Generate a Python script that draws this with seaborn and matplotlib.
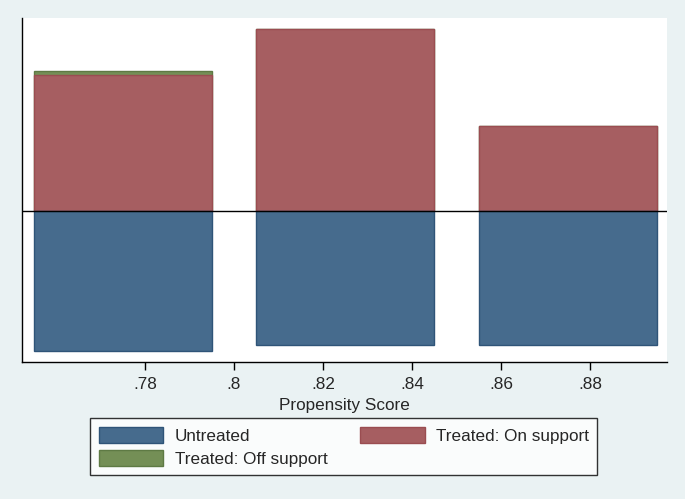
import numpy as np
import pandas as pd
import matplotlib
matplotlib.use('Agg')
import matplotlib.pyplot as plt
from matplotlib.patches import Patch
import seaborn as sns

# bin centers of the propensity score and bar heights (arbitrary density units)
bin_centers = [0.775, 0.825, 0.875]
untreated = [140, 134, 134]
treated_on = [136, 182, 85]
treated_off = [4, 0, 0]

blue, red, green = '#466B8D', '#A65E61', '#748F56'
bg = '#EAF2F3'

sns.set_theme(style='white')
plt.rcParams['font.family'] = ['Liberation Sans', 'DejaVu Sans']

df = pd.DataFrame({
    'ps': bin_centers,
    'untreated': [-v for v in untreated],
    'on': treated_on,
    'total': [a + b for a, b in zip(treated_on, treated_off)],
})

fig = plt.figure(figsize=(6.85, 4.99), dpi=100, facecolor=bg)
ax = fig.add_axes([22 / 685, 1 - 362 / 499, 645 / 685, 344 / 499])
ax.set_facecolor('white')

sns.barplot(data=df, x='ps', y='total', native_scale=True, width=0.8,
            color=green, saturation=1, edgecolor='#5E7A44', linewidth=1, ax=ax)
sns.barplot(data=df, x='ps', y='on', native_scale=True, width=0.8,
            color=red, saturation=1, edgecolor='#9A4D51', linewidth=1, ax=ax)
sns.barplot(data=df, x='ps', y='untreated', native_scale=True, width=0.8,
            color=blue, saturation=1, edgecolor='#2F5478', linewidth=1, ax=ax)

ax.axhline(0, color='black', lw=1)
ax.set_xlim(0.7524, 0.8973)
ax.set_ylim(-151, 193)
ax.set_xticks([0.78, 0.80, 0.82, 0.84, 0.86, 0.88])
ax.set_xticklabels(['.78', '.8', '.82', '.84', '.86', '.88'], fontsize=12.3)
ax.set_yticks([])
ax.set_ylabel('')
ax.set_xlabel('Propensity Score', fontsize=12.3, labelpad=4)
ax.tick_params(axis='x', bottom=True, length=6, width=1, color='black', pad=5)
for s in ['top', 'right']:
    ax.spines[s].set_visible(False)
for s in ['left', 'bottom']:
    ax.spines[s].set_color('black')
    ax.spines[s].set_linewidth(1)

# column-wise fill: col 1 = Untreated, Off support; col 2 = On support
handles = [Patch(facecolor=blue, edgecolor='#2F5478'),
           Patch(facecolor=green, edgecolor='#5E7A44'),
           Patch(facecolor=red, edgecolor='#9A4D51')]
labels = ['Untreated', 'Treated: Off support', 'Treated: On support']
leg = fig.legend(handles, labels, ncol=2, loc='upper left',
                 bbox_to_anchor=(90 / 685, 1 - 418 / 499), fontsize=12.3,
                 frameon=True, fancybox=False, edgecolor='black',
                 handlelength=3.8, handleheight=1.1, columnspacing=1.9,
                 labelspacing=0.35, borderpad=0.5, handletextpad=0.65,
                 borderaxespad=0)
leg.get_frame().set_linewidth(1)
leg.get_frame().set_facecolor('white')

fig.savefig('out.png', dpi=100, facecolor=bg)
